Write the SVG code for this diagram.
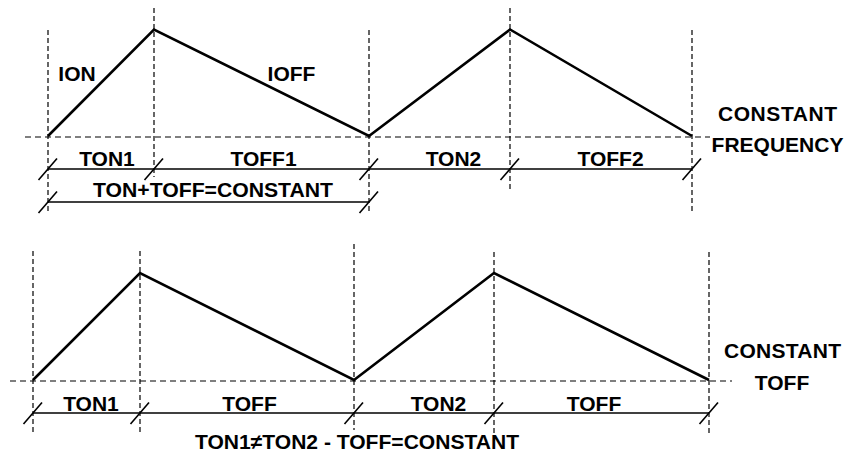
<svg xmlns="http://www.w3.org/2000/svg" width="848" height="459" viewBox="0 0 848 459">
  <style>
    .bg { fill: #ffffff; }
    .vguide { stroke: #000; stroke-width: 1.2; stroke-dasharray: 5 3; fill: none; }
    .hguide { stroke: #000; stroke-width: 1.2; stroke-dasharray: 6 4; fill: none; }
    .wave { stroke: #000; stroke-width: 2.6; fill: none; stroke-linejoin: miter; }
    .dim { stroke: #000; stroke-width: 1.4; fill: none; }
    .tick { stroke: #000; stroke-width: 1.6; fill: none; }
    text { font-family: "Liberation Sans", Arial, sans-serif; font-weight: bold; font-size: 21px; fill: #000; text-anchor: middle; }
  </style>
  <defs>
    <path id="tk" class="tick" d="M -9.5 11 L 9 -10.5"/>
  </defs>
  <rect class="bg" x="0" y="0" width="848" height="459"/>

  <!-- Constant frequency waveform -->
  <g id="constant-frequency">
    <g id="cf-guides">
      <line class="vguide" x1="48" y1="30" x2="48" y2="213"/>
      <line class="vguide" x1="154" y1="8" x2="154" y2="177"/>
      <line class="vguide" x1="369" y1="30" x2="369" y2="213"/>
      <line class="vguide" x1="510" y1="8" x2="510" y2="192"/>
      <line class="vguide" x1="692" y1="30" x2="692" y2="212"/>
      <line class="hguide" x1="25" y1="137" x2="710" y2="137"/>
    </g>
    <polyline id="cf-wave" class="wave" points="48,136 154,29.5 369,136 510,29.5 692,136"/>
    <g id="cf-dims">
      <line class="dim" x1="48" y1="169" x2="692" y2="169"/>
      <use href="#tk" x="48" y="169"/>
      <use href="#tk" x="154" y="169"/>
      <use href="#tk" x="369" y="169"/>
      <use href="#tk" x="510" y="169"/>
      <use href="#tk" x="692" y="169"/>
      <line class="dim" x1="48" y1="202" x2="369" y2="202"/>
      <use href="#tk" x="48" y="202"/>
      <use href="#tk" x="369" y="202"/>
    </g>
    <g id="cf-labels">
      <text x="77" y="81">ION</text>
      <text x="291.5" y="81">IOFF</text>
      <text x="107" y="166">TON1</text>
      <text x="263.5" y="166">TOFF1</text>
      <text x="453.5" y="166">TON2</text>
      <text x="610.5" y="166">TOFF2</text>
      <text x="213" y="197" textLength="240" lengthAdjust="spacingAndGlyphs">TON+TOFF=CONSTANT</text>
      <text x="777.5" y="121" textLength="119" lengthAdjust="spacing">CONSTANT</text>
      <text x="777.5" y="152">FREQUENCY</text>
    </g>
  </g>

  <!-- Constant off-time waveform -->
  <g id="constant-toff">
    <g id="ct-guides">
      <line class="vguide" x1="33" y1="251" x2="33" y2="435"/>
      <line class="vguide" x1="140" y1="251" x2="140" y2="435"/>
      <line class="vguide" x1="354" y1="244" x2="354" y2="430"/>
      <line class="vguide" x1="494" y1="252" x2="494" y2="443"/>
      <line class="vguide" x1="709" y1="252" x2="709" y2="435"/>
      <line class="hguide" x1="10" y1="381" x2="732" y2="381"/>
    </g>
    <polyline id="ct-wave" class="wave" points="33,380 140,273 354,380 494,273 709,380"/>
    <g id="ct-dims">
      <line class="dim" x1="33" y1="413" x2="709" y2="413"/>
      <use href="#tk" x="33" y="413"/>
      <use href="#tk" x="140" y="413"/>
      <use href="#tk" x="354" y="413"/>
      <use href="#tk" x="494" y="413"/>
      <use href="#tk" x="709" y="413"/>
    </g>
    <g id="ct-labels">
      <text x="91" y="411">TON1</text>
      <text x="249.5" y="411">TOFF</text>
      <text x="438.5" y="411">TON2</text>
      <text x="594" y="411">TOFF</text>
      <text x="357" y="449" textLength="324" lengthAdjust="spacingAndGlyphs">TON1≠TON2 - TOFF=CONSTANT</text>
      <text x="782.5" y="358" textLength="117" lengthAdjust="spacing">CONSTANT</text>
      <text x="782" y="390">TOFF</text>
    </g>
  </g>
</svg>
